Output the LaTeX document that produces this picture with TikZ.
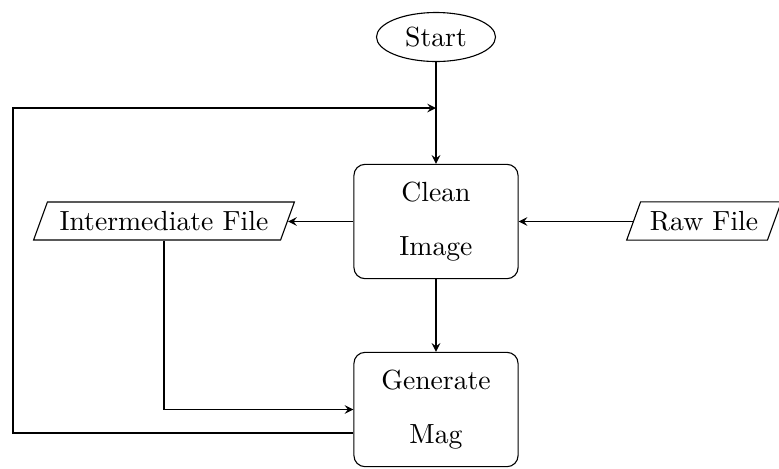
\documentclass[tikz,border=0pt]{standalone}
\usetikzlibrary{shapes.geometric,arrows}
\begin{document}
\begin{tikzpicture}[x=0.3613pt,y=-0.3613pt,
  startstop/.style={ellipse,draw,minimum width=43pt,minimum height=17.7pt,inner sep=0pt},
  process/.style={rectangle,rounded corners,draw,minimum width=59.3pt,minimum height=41.3pt,align=center,inner sep=0pt},
  iobox/.style={trapezium,trapezium left angle=70,trapezium right angle=110,draw,minimum height=13.7pt},
  arrowline/.style={draw,-stealth}]
\useasboundingbox (0,0) rectangle (779,468);
\node[startstop] (start) at (436,37) {Start};
\node[process] (clean) at (436,221.5) {Clean\\[7.6pt]Image};
\node[process] (gen) at (436,409.5) {Generate\\[7.6pt]Mag};
\node[iobox,inner xsep=4.4pt] (inter) at (164,221) {Intermediate File};
\node[iobox] (raw) at (704,221) {Raw File};
\coordinate (loopA) at (13,433);
\coordinate (loopB) at (13,108);
\draw[arrowline] (start) -- (clean);
\draw[arrowline] (clean) -- (gen);
\draw[arrowline] (clean.west) -- (clean.west -| inter.east);
\draw[arrowline] (raw.west |- clean.east) -- (clean.east);
\draw[arrowline] (inter.south) |- (gen.west);
\draw[arrowline] (gen.west |- loopA) -- (loopA) -- (loopB) -- (loopB -| start);
\end{tikzpicture}
\end{document}
